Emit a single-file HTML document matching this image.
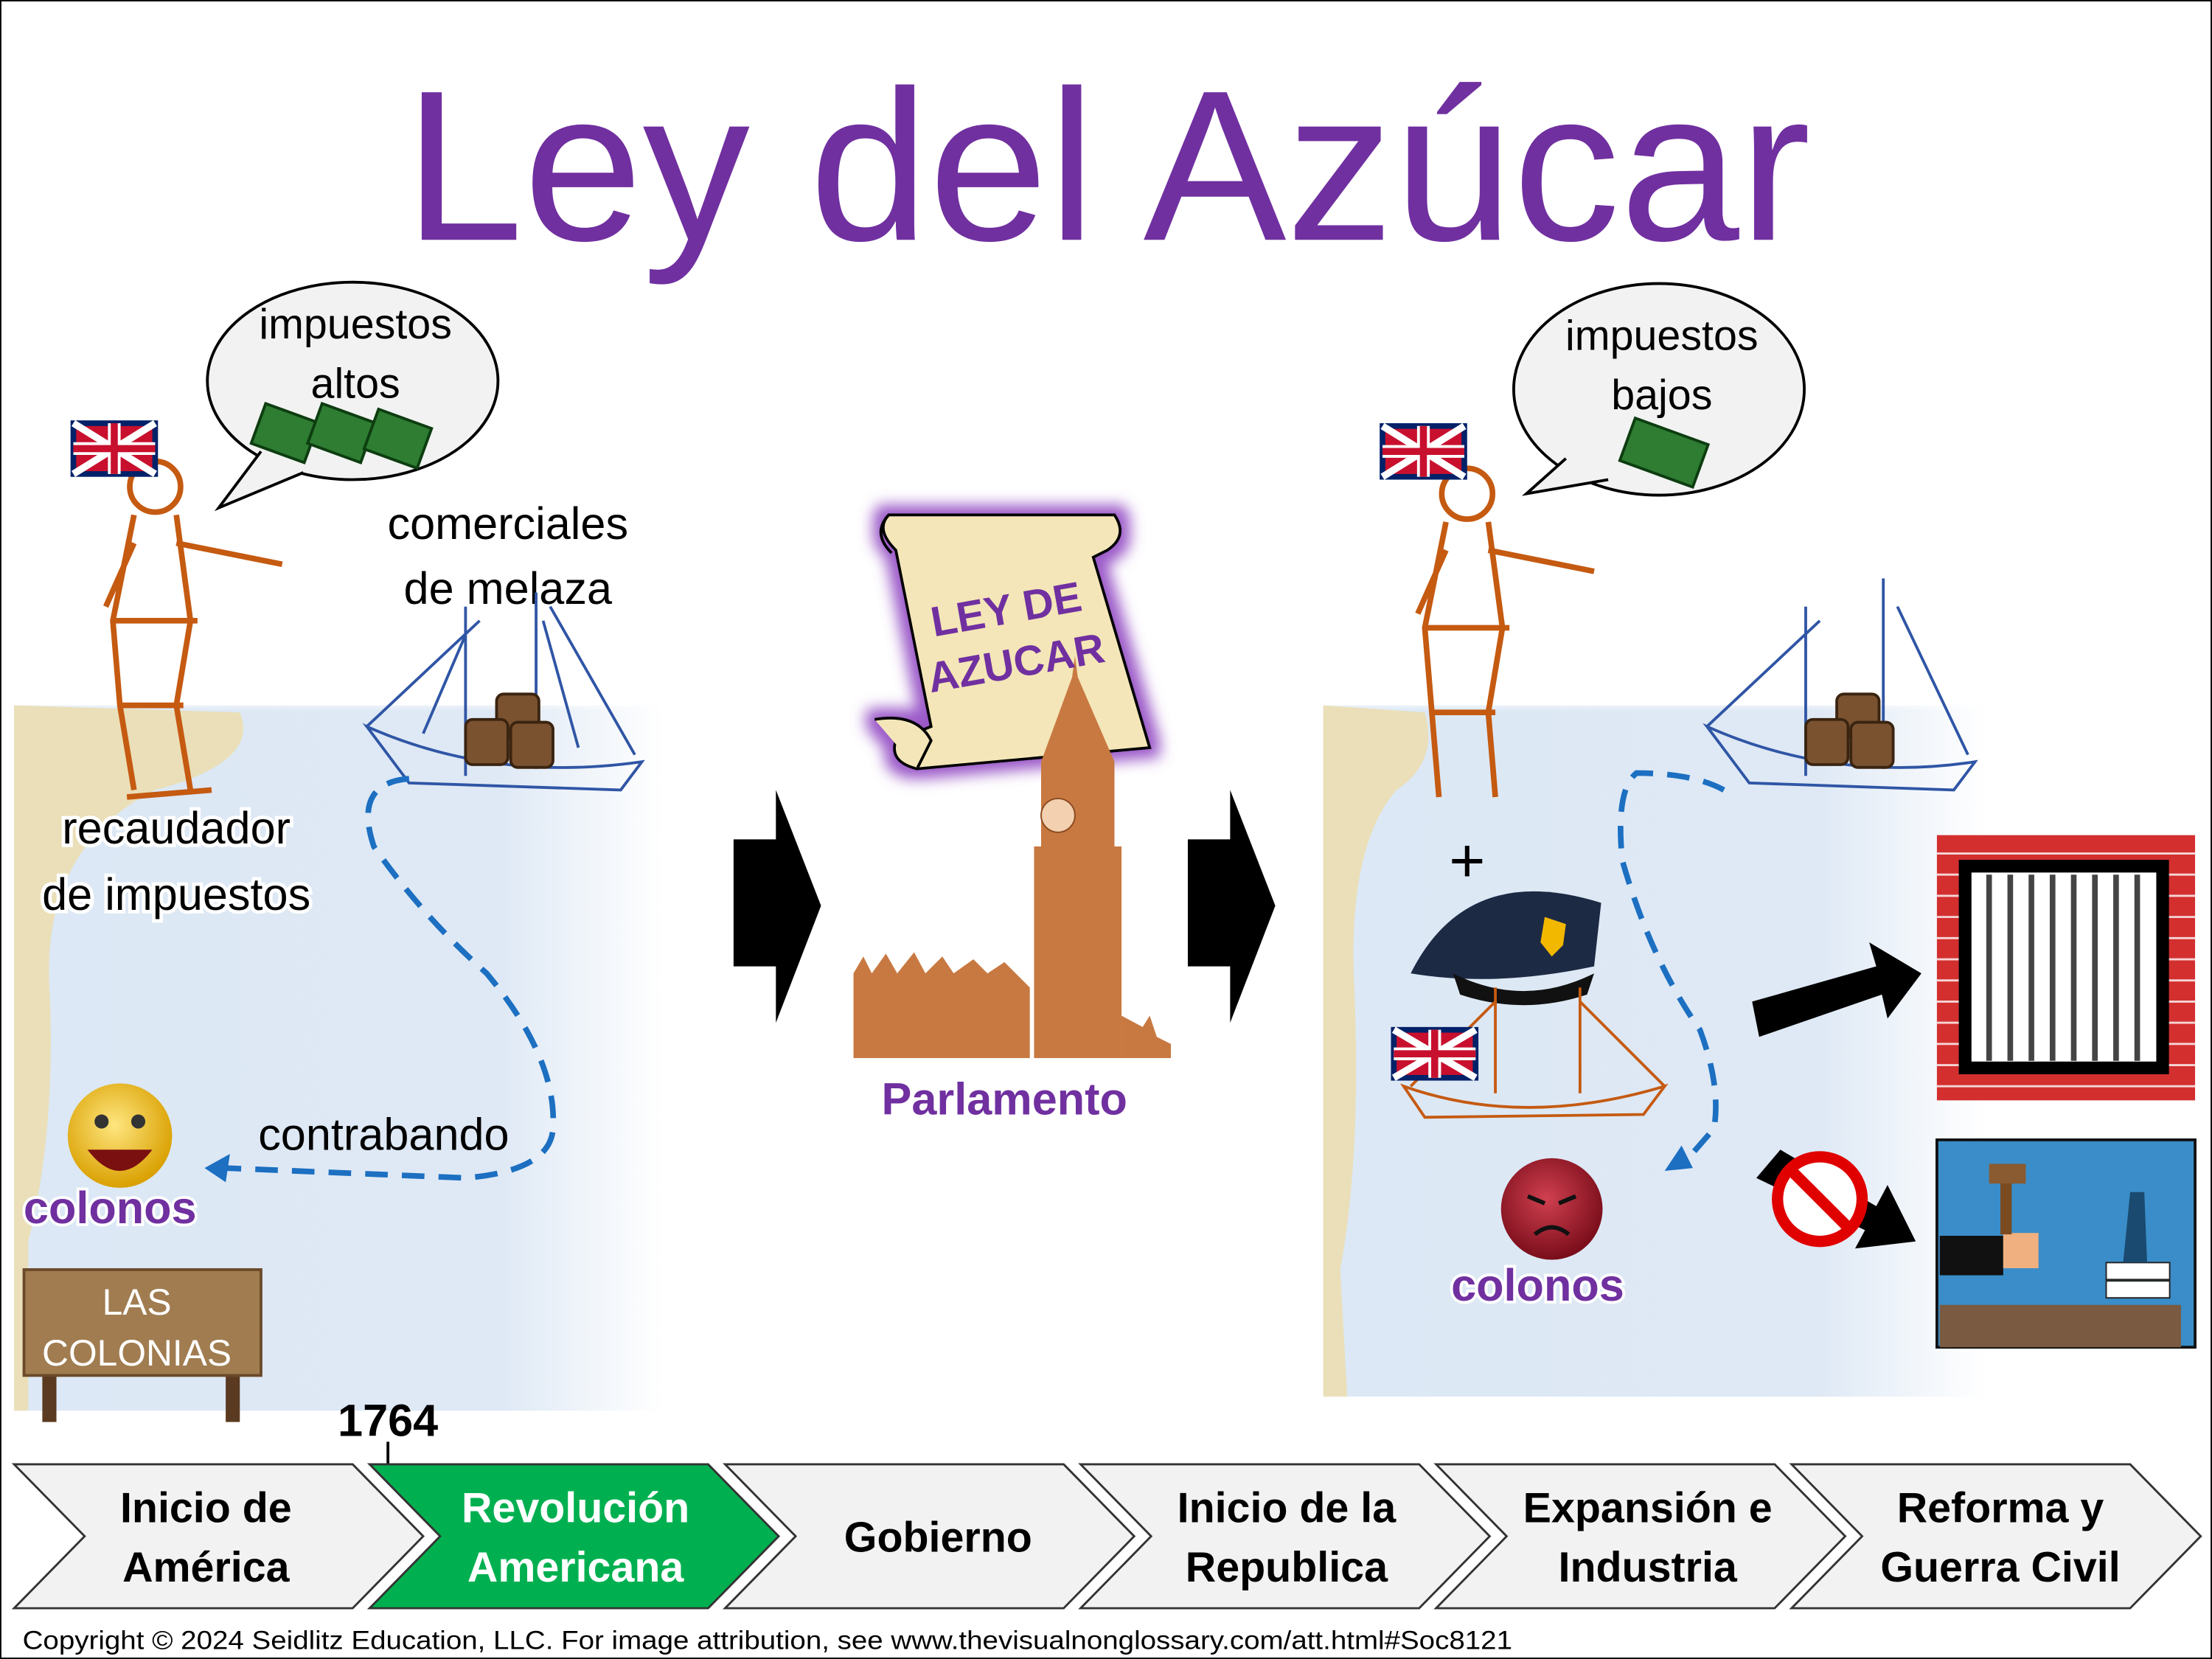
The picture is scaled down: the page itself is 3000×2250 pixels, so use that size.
<!DOCTYPE html>
<html><head><meta charset="utf-8"><style>
html,body{margin:0;padding:0;background:#fff}
svg{display:block}
text{font-family:"Liberation Sans",sans-serif}
</style></head><body>
<svg width="3000" height="2250" viewBox="0 0 1568 1176" preserveAspectRatio="none" xmlns="http://www.w3.org/2000/svg">
<defs>
<linearGradient id="w" x1="0" x2="1" y1="0" y2="0"><stop offset="0" stop-color="#dce8f5"/><stop offset="0.75" stop-color="#dfe9f5"/><stop offset="1" stop-color="#fff"/></linearGradient>
<linearGradient id="wt" x1="0" x2="0" y1="0" y2="1"><stop offset="0" stop-color="#fff"/><stop offset="0.15" stop-color="#fff" stop-opacity="0"/></linearGradient>
<radialGradient id="sm" cx="0.45" cy="0.4" r="0.6"><stop offset="0" stop-color="#ffe680"/><stop offset="1" stop-color="#d9a000"/></radialGradient>
<radialGradient id="an" cx="0.45" cy="0.4" r="0.6"><stop offset="0" stop-color="#d04050"/><stop offset="1" stop-color="#7a0d1a"/></radialGradient>
<filter id="gl" x="-20%" y="-20%" width="140%" height="140%"><feMorphology in="SourceAlpha" operator="dilate" radius="6" result="d"/><feGaussianBlur in="d" stdDeviation="5" result="b"/><feFlood flood-color="#9b59c8"/><feComposite in2="b" operator="in"/><feMerge><feMergeNode/><feMergeNode in="SourceGraphic"/></feMerge></filter>
</defs>
<rect x="0.5" y="0.5" width="1567" height="1175" fill="#fff" stroke="#000" stroke-width="1"/>
<text x="785" y="170" font-size="152" fill="#7030A0" text-anchor="middle">Ley del Azúcar</text>

<rect x="10" y="500" width="460" height="500" fill="url(#w)"/>
<rect x="10" y="495" width="460" height="60" fill="url(#wt)"/>
<path d="M10 500 L170 505 Q185 540 110 560 Q30 600 35 700 Q40 800 20 880 L20 1000 L10 1000 Z" fill="#eadfb8"/>
<g fill="none" stroke="#c55a11" stroke-width="4">
<circle cx="110" cy="345" r="18"/>
<path d="M95 365 L80 440 L85 500 L95 560 M125 365 L135 440 L125 500 L135 560 M125 385 L200 400 M95 385 L75 430"/>
<path d="M80 440 L140 440 M85 500 L130 500 M90 565 L150 560"/>
</g>
<rect x="52" y="300" width="58" height="36" fill="#c8102e" stroke="#012169" stroke-width="4"/>
<path d="M52 300 L110 336 M110 300 L52 336" stroke="#fff" stroke-width="5"/>
<path d="M81 300 V336 M52 318 H110" stroke="#fff" stroke-width="9"/><path d="M81 300 V336 M52 318 H110" stroke="#c8102e" stroke-width="5"/>
<ellipse cx="250" cy="270" rx="103" ry="70" fill="#f2f2f2" stroke="#000" stroke-width="2"/>
<path d="M185 320 L155 360 L215 335" fill="#f2f2f2" stroke="#000" stroke-width="2"/>
<text x="252" y="240" font-size="30" text-anchor="middle">impuestos</text>
<text x="252" y="282" font-size="30" text-anchor="middle">altos</text>
<g fill="#2e7d32" stroke="#0d3d10" stroke-width="2"><rect x="182" y="292" width="40" height="30" transform="rotate(20 202 307)"/><rect x="222" y="292" width="40" height="30" transform="rotate(20 242 307)"/><rect x="262" y="296" width="40" height="30" transform="rotate(20 282 311)"/></g>
<text x="360" y="382" font-size="32" text-anchor="middle">comerciales</text>
<text x="360" y="428" font-size="32" text-anchor="middle">de melaza</text>
<g stroke="#2f55a5" stroke-width="2" fill="none"><path d="M260 515 Q350 555 455 540 L440 560 L290 555 Z"/><path d="M330 430 L330 550 M380 420 L380 545 M340 440 L260 515 M390 430 L450 535 M330 450 L300 520 M385 440 L410 530"/></g>
<g fill="#7a5230" stroke="#3a2410" stroke-width="2"><rect x="352" y="492" width="30" height="30" rx="5"/><rect x="330" y="510" width="30" height="32" rx="5"/><rect x="362" y="512" width="30" height="32" rx="5"/></g>
<text x="125" y="598" font-size="32" text-anchor="middle" stroke="#fff" stroke-width="5" paint-order="stroke">recaudador</text>
<text x="125" y="645" font-size="32" text-anchor="middle" stroke="#fff" stroke-width="5" paint-order="stroke">de impuestos</text>
<path d="M290 552 Q250 555 265 600 Q300 650 345 690 Q395 750 392 800 Q390 830 330 835 L160 828" fill="none" stroke="#1c6fc1" stroke-width="4" stroke-dasharray="16 10"/>
<path d="M145 828 L163 818 L160 838 Z" fill="#1c6fc1"/>
<text x="272" y="815" font-size="32" text-anchor="middle">contrabando</text>
<circle cx="85" cy="805" r="37" fill="url(#sm)"/>
<circle cx="72" cy="795" r="5" fill="#333"/><circle cx="98" cy="795" r="5" fill="#333"/>
<path d="M62 815 Q85 845 108 815 Z" fill="#7a1010"/>
<text x="78" y="867" font-size="32" font-weight="bold" fill="#7030A0" text-anchor="middle" stroke="#fff" stroke-width="4" paint-order="stroke">colonos</text>
<rect x="30" y="970" width="10" height="38" fill="#5a3a20"/><rect x="160" y="970" width="10" height="38" fill="#5a3a20"/>
<rect x="17" y="900" width="168" height="75" fill="#a07c50" stroke="#6b4a2a" stroke-width="2"/>
<text x="97" y="932" font-size="26" fill="#fff" text-anchor="middle">LAS</text>
<text x="97" y="968" font-size="26" fill="#fff" text-anchor="middle">COLONIAS</text>

<path d="M520 595 L550 595 L550 560 L582 642 L550 725 L550 685 L520 685 Z" fill="#000"/>
<path d="M842 595 L872 595 L872 560 L904 642 L872 725 L872 685 L842 685 Z" fill="#000"/>

<g filter="url(#gl)">
<path d="M630 365 L790 365 Q800 380 785 390 L775 395 L815 530 L650 545 Q630 540 635 525 L660 515 L635 390 Q620 375 630 365 Z" fill="#f4e6b8" stroke="#000" stroke-width="2"/>
<path d="M620 510 Q650 505 660 525 L650 545" fill="#f4e6b8" stroke="#000" stroke-width="2"/>
</g>
<path d="M630 365 Q618 378 632 392" fill="none" stroke="#000" stroke-width="2"/>
<g fill="#c87941"><path d="M738 540 L738 600 L733 600 L733 750 L795 750 L795 600 L790 600 L790 540 L764 480 L762 465 L760 480 Z"/><path d="M605 690 L612 678 L618 690 L628 676 L636 690 L648 675 L656 690 L668 678 L676 690 L690 680 L700 690 L712 682 L730 700 L730 750 L605 750 Z"/><path d="M795 720 L810 728 L815 720 L820 735 L830 740 L830 750 L795 750 Z"/></g>
<circle cx="750" cy="578" r="12" fill="#f2d0b0" stroke="#8a4a20"/>
<text x="715" y="442" font-size="30" font-weight="bold" fill="#7030A0" text-anchor="middle" transform="rotate(-10 715 442)">LEY DE</text>
<text x="722" y="480" font-size="30" font-weight="bold" fill="#7030A0" text-anchor="middle" transform="rotate(-10 722 480)">AZUCAR</text>
<text x="712" y="790" font-size="32" font-weight="bold" fill="#7030A0" text-anchor="middle">Parlamento</text>

<rect x="938" y="500" width="470" height="490" fill="url(#w)"/>
<rect x="938" y="495" width="470" height="60" fill="url(#wt)"/>
<path d="M938 500 L1010 505 Q1020 540 990 560 Q955 600 960 700 Q965 820 950 900 L955 990 L938 990 Z" fill="#eadfb8"/>
<g fill="none" stroke="#c55a11" stroke-width="4">
<circle cx="1040" cy="350" r="18"/>
<path d="M1025 370 L1010 445 L1015 505 L1020 565 M1055 370 L1065 445 L1055 505 L1060 565 M1055 390 L1130 405 M1025 390 L1005 435"/>
<path d="M1010 445 L1070 445 M1015 505 L1060 505"/>
</g>
<rect x="980" y="302" width="58" height="36" fill="#c8102e" stroke="#012169" stroke-width="4"/>
<path d="M980 302 L1038 338 M1038 302 L980 338" stroke="#fff" stroke-width="5"/>
<path d="M1009 302 V338 M980 320 H1038" stroke="#fff" stroke-width="9"/><path d="M1009 302 V338 M980 320 H1038" stroke="#c8102e" stroke-width="5"/>
<ellipse cx="1176" cy="276" rx="103" ry="75" fill="#f2f2f2" stroke="#000" stroke-width="2"/>
<path d="M1110 325 L1082 350 L1140 340" fill="#f2f2f2" stroke="#000" stroke-width="2"/>
<text x="1178" y="248" font-size="30" text-anchor="middle">impuestos</text>
<text x="1178" y="290" font-size="30" text-anchor="middle">bajos</text>
<rect x="1152" y="305" width="55" height="32" fill="#2e7d32" stroke="#0d3d10" stroke-width="2" transform="rotate(20 1180 321)"/>
<g stroke="#2f55a5" stroke-width="2" fill="none"><path d="M1210 515 Q1300 555 1400 540 L1385 560 L1240 555 Z"/><path d="M1280 430 L1280 550 M1335 410 L1335 545 M1290 440 L1210 515 M1345 430 L1395 535"/></g>
<g fill="#7a5230" stroke="#3a2410" stroke-width="2"><rect x="1302" y="492" width="30" height="30" rx="5"/><rect x="1280" y="510" width="30" height="32" rx="5"/><rect x="1312" y="512" width="30" height="32" rx="5"/></g>
<text x="1040" y="625" font-size="44" text-anchor="middle">+</text>
<path d="M1000 690 Q1040 610 1135 640 L1130 685 Q1060 700 1000 690 Z" fill="#1d2a44"/>
<path d="M1030 690 Q1080 715 1130 690 L1125 705 Q1080 720 1035 705 Z" fill="#111"/>
<path d="M1095 650 L1110 655 L1108 670 L1100 678 L1092 668 Z" fill="#f2b800"/>
<g stroke="#c55a11" stroke-width="2" fill="none"><path d="M995 770 Q1080 800 1180 770 L1165 790 L1010 792 Z M1060 700 L1060 775 M1120 700 L1120 775 M1060 710 L1000 770 M1120 710 L1180 770"/></g>
<rect x="988" y="730" width="58" height="34" fill="#c8102e" stroke="#012169" stroke-width="4"/>
<path d="M988 730 L1046 764 M1046 730 L988 764" stroke="#fff" stroke-width="5"/>
<path d="M1017 730 V764 M988 747 H1046" stroke="#fff" stroke-width="9"/><path d="M1017 730 V764 M988 747 H1046" stroke="#c8102e" stroke-width="5"/>
<path d="M1222 560 Q1200 548 1160 548 Q1145 560 1150 610 Q1170 680 1205 730 Q1220 770 1215 800 L1195 823" fill="none" stroke="#1c6fc1" stroke-width="4" stroke-dasharray="16 10"/>
<path d="M1180 830 L1192 812 L1200 828 Z" fill="#1c6fc1"/>
<circle cx="1100" cy="857" r="36" fill="url(#an)"/>
<path d="M1083 848 L1095 853 M1117 848 L1105 853" stroke="#111" stroke-width="3"/>
<path d="M1088 875 Q1100 865 1112 875" stroke="#111" stroke-width="3" fill="none"/>
<text x="1090" y="922" font-size="32" font-weight="bold" fill="#7030A0" text-anchor="middle" stroke="#fff" stroke-width="4" paint-order="stroke">colonos</text>
<path d="M1242 710 L1330 685 L1325 668 L1362 690 L1338 722 L1334 705 L1247 735 Z" fill="#000"/>
<path d="M1245 835 L1262 815 L1330 855 L1338 840 L1358 880 L1315 885 L1322 872 Z" fill="#000"/>
<circle cx="1290" cy="850" r="30" fill="#fff" stroke="#e00000" stroke-width="8"/>
<path d="M1270 830 L1310 870" stroke="#e00000" stroke-width="8"/>
<rect x="1373" y="592" width="183" height="188" fill="#d32f2f"/>
<g stroke="#fff" stroke-width="1.5" opacity="0.8">
<path d="M1373 605 H1556 M1373 620 H1556 M1373 635 H1556 M1373 650 H1556 M1373 665 H1556 M1373 680 H1556 M1373 695 H1556 M1373 710 H1556 M1373 725 H1556 M1373 740 H1556 M1373 755 H1556 M1373 770 H1556"/></g>
<rect x="1393" y="614" width="140" height="143" fill="#fff" stroke="#000" stroke-width="9"/>
<g stroke="#444" stroke-width="4"><path d="M1410 620 V752 M1425 620 V752 M1440 620 V752 M1455 620 V752 M1470 620 V752 M1485 620 V752 M1500 620 V752 M1515 620 V752"/></g>
<rect x="1373" y="808" width="183" height="147" fill="#3a8dc8" stroke="#111" stroke-width="2"/>
<rect x="1375" y="925" width="171" height="30" fill="#7a5a40"/>
<rect x="1375" y="876" width="45" height="28" fill="#111"/>
<rect x="1420" y="874" width="25" height="25" fill="#f0b080"/>
<rect x="1418" y="835" width="8" height="40" fill="#7a4a20"/><rect x="1410" y="825" width="26" height="14" fill="#8a5a30"/>
<rect x="1493" y="895" width="45" height="12" fill="#fff" stroke="#222"/><rect x="1493" y="908" width="45" height="12" fill="#fff" stroke="#222"/>
<path d="M1505 895 L1510 845 L1520 845 L1522 895 Z" fill="#1a4a70"/>

<text x="275" y="1018" font-size="32" font-weight="bold" text-anchor="middle">1764</text>
<path d="M275 1022 V1040" stroke="#000" stroke-width="2"/>
<g stroke="#333" stroke-width="1.5">
<path d="M10 1038 L250 1038 L300 1089 L250 1140 L10 1140 L60 1089 Z" fill="#f2f2f2"/>
<path d="M262 1038 L502 1038 L552 1089 L502 1140 L262 1140 L312 1089 Z" fill="#00B050"/>
<path d="M514 1038 L754 1038 L804 1089 L754 1140 L514 1140 L564 1089 Z" fill="#f2f2f2"/>
<path d="M766 1038 L1006 1038 L1056 1089 L1006 1140 L766 1140 L816 1089 Z" fill="#f2f2f2"/>
<path d="M1018 1038 L1258 1038 L1308 1089 L1258 1140 L1018 1140 L1068 1089 Z" fill="#f2f2f2"/>
<path d="M1270 1038 L1510 1038 L1560 1089 L1510 1140 L1270 1140 L1320 1089 Z" fill="#f2f2f2"/>
</g>
<g font-size="30" font-weight="bold" text-anchor="middle">
<text x="146" y="1079">Inicio de</text><text x="146" y="1121">América</text>
<text x="408" y="1079" fill="#fff">Revolución</text><text x="408" y="1121" fill="#fff">Americana</text>
<text x="665" y="1100">Gobierno</text>
<text x="912" y="1079">Inicio de la</text><text x="912" y="1121">Republica</text>
<text x="1168" y="1079">Expansión e</text><text x="1168" y="1121">Industria</text>
<text x="1418" y="1079">Reforma y</text><text x="1418" y="1121">Guerra Civil</text>
</g>
<text x="16" y="1169" font-size="18.5" textLength="1056" lengthAdjust="spacingAndGlyphs">Copyright © 2024 Seidlitz Education, LLC.  For image attribution, see www.thevisualnonglossary.com/att.html#Soc8121</text>
</svg>
</body></html>
